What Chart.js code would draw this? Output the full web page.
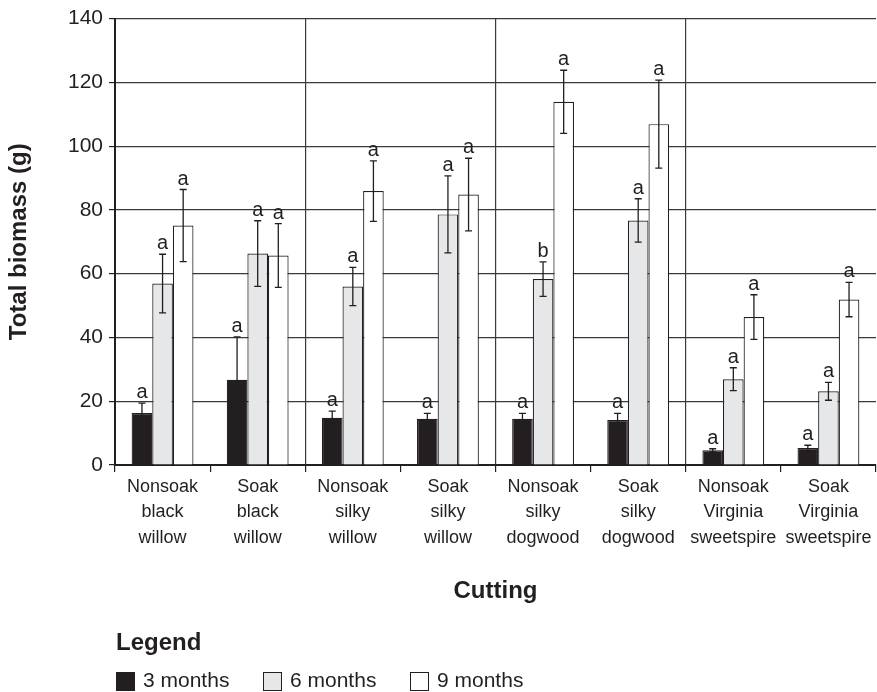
<!DOCTYPE html>
<html>
<head>
<meta charset="utf-8">
<script src="https://cdn.jsdelivr.net/npm/chart.js@4.4.1/dist/chart.umd.min.js"></script>
<style>
  body { margin: 0; background: #fff; }
  #wrap { position: relative; width: 877px; height: 692px; }
  #legend { position: absolute; left: 0; top: 0; font-family: 'Liberation Sans', Arial, sans-serif; color: #231f20; }
  #legend .ttl { position: absolute; left: 116px; top: 628px; font-size: 24px; font-weight: bold; white-space: nowrap; }
  #legend .box { position: absolute; top: 672px; width: 17px; height: 17px; border: 1px solid #231f20; }
  #legend .lbl { position: absolute; top: 668px; font-size: 21px; white-space: nowrap; }
</style>
</head>
<body>
<div id="wrap">
  <canvas id="chart" width="877" height="692"></canvas>
  <div id="legend"></div>
</div>
<script>
// categories (multi-line labels)
const categories = [
  ['Nonsoak', 'black', 'willow'],
  ['Soak', 'black', 'willow'],
  ['Nonsoak', 'silky', 'willow'],
  ['Soak', 'silky', 'willow'],
  ['Nonsoak', 'silky', 'dogwood'],
  ['Soak', 'silky', 'dogwood'],
  ['Nonsoak', 'Virginia', 'sweetspire'],
  ['Soak', 'Virginia', 'sweetspire']
];

// mean biomass (g)
const months3 = [16.3, 26.7, 14.8, 14.5, 14.5, 14.1, 4.6, 5.3];
const months6 = [56.9, 66.3, 56.0, 78.6, 58.3, 76.7, 26.9, 23.1];
const months9 = [75.1, 65.7, 85.9, 84.8, 113.9, 106.9, 46.4, 51.9];

// error bar half widths
const err3 = [3.1, 13.5, 2.1, 1.7, 1.7, 2.1, 0.5, 0.9];
const err6 = [9.2, 10.3, 6.0, 12.1, 5.4, 6.8, 3.6, 2.8];
const err9 = [11.3, 10.0, 9.5, 11.4, 9.9, 13.8, 7.0, 5.4];

// significance letters
const letters3 = ['a', 'a', 'a', 'a', 'a', 'a', 'a', 'a'];
const letters6 = ['a', 'a', 'a', 'a', 'b', 'a', 'a', 'a'];
const letters9 = ['a', 'a', 'a', 'a', 'a', 'a', 'a', 'a'];

const seriesNames = ['3 months', '6 months', '9 months'];
const seriesColors = ['#231f20', '#e6e7e8', '#ffffff'];

const ink = '#231f20';
const font = "'Liberation Sans', Arial, sans-serif";

// error bars + letters
const errorBars = {
  id: 'errorBars',
  afterDatasetsDraw(chart) {
    const ctx = chart.ctx;
    const y = chart.scales.y;
    ctx.save();
    chart.data.datasets.forEach((ds, di) => {
      const meta = chart.getDatasetMeta(di);
      meta.data.forEach((bar, i) => {
        const v = ds.data[i], e = ds.err[i];
        const top = y.getPixelForValue(v + e);
        const bot = y.getPixelForValue(v - e);
        ctx.strokeStyle = ink;
        ctx.lineWidth = 1.3;
        ctx.beginPath();
        ctx.moveTo(bar.x, top); ctx.lineTo(bar.x, bot);
        ctx.moveTo(bar.x - 3.5, top); ctx.lineTo(bar.x + 3.5, top);
        ctx.moveTo(bar.x - 3.5, bot); ctx.lineTo(bar.x + 3.5, bot);
        ctx.stroke();
        ctx.fillStyle = ink;
        ctx.font = '20px ' + font;
        ctx.textAlign = 'center';
        ctx.textBaseline = 'alphabetic';
        ctx.fillText(ds.letters[i], bar.x, top - 5);
      });
    });
    ctx.restore();
  }
};

new Chart(document.getElementById('chart'), {
  type: 'bar',
  data: {
    labels: categories,
    datasets: [
      { label: seriesNames[0], data: months3, err: err3, letters: letters3, backgroundColor: seriesColors[0] },
      { label: seriesNames[1], data: months6, err: err6, letters: letters6, backgroundColor: seriesColors[1] },
      { label: seriesNames[2], data: months9, err: err9, letters: letters9, backgroundColor: seriesColors[2] }
    ].map(d => Object.assign(d, { borderColor: ink, borderWidth: 1.2, barPercentage: 1, categoryPercentage: 0.65 }))
  },
  options: {
    responsive: false,
    animation: false,
    layout: { padding: { top: 18, left: 0, right: 1, bottom: 86 } },
    plugins: { legend: { display: false }, tooltip: { enabled: false } },
    scales: {
      x: {
        grid: {
          offset: true,
          color: c => (c.type === 'tick' && c.index > 0 && c.index % 2 === 0) ? '#3a3a3a' : 'rgba(0,0,0,0)',
          lineWidth: 1.2,
          tickColor: ink,
          tickLength: 7
        },
        border: { color: ink, width: 2 },
        ticks: { color: ink, font: { family: font, size: 18, lineHeight: 1.39 }, padding: 3, maxRotation: 0, autoSkip: false },
        title: { display: true, text: 'Cutting', color: ink, font: { family: font, size: 24, weight: 'bold' }, padding: { top: 0, bottom: 0 } },
        afterFit: s => { s.height = 141; }
      },
      y: {
        min: 0,
        max: 140,
        grid: { color: '#3a3a3a', lineWidth: 1.2, tickColor: ink, tickLength: 6 },
        border: { color: ink, width: 2 },
        ticks: { stepSize: 20, color: ink, font: { family: font, size: 21 }, padding: 6 },
        title: { display: true, text: 'Total biomass (g)', color: ink, font: { family: font, size: 24, weight: 'bold' }, padding: { top: 5, bottom: 0 } },
        afterFit: s => { s.width = 115; }
      }
    }
  },
  plugins: [errorBars]
});

// legend
const lg = document.getElementById('legend');
lg.innerHTML = '<div class="ttl">Legend</div>' + seriesNames.map((n, i) =>
  '<div class="box" style="left:' + (116 + i * 147) + 'px;background:' + seriesColors[i] + '"></div>' +
  '<div class="lbl" style="left:' + (143 + i * 147) + 'px">' + n + '</div>'
).join('');
</script>
</body>
</html>
